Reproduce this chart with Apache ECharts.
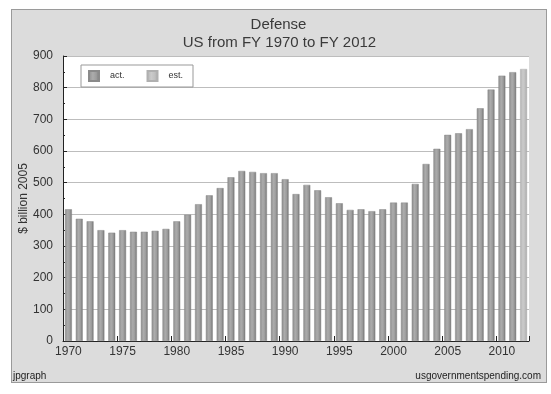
<!DOCTYPE html>
<html>
<head>
<meta charset="utf-8">
<script src="https://cdn.jsdelivr.net/npm/echarts@6/dist/echarts.min.js"></script>
<style>
  html, body { margin: 0; padding: 0; background: #fff; }
  #wrap { position: relative; width: 551px; height: 394px; }
  #frame { position: absolute; left: 11px; top: 9px; width: 534px; height: 372px;
           background: #dcdcdc; border: 1px solid #9a9a9a; }
  #chart { position: absolute; left: 0; top: 0; width: 551px; height: 394px; }
</style>
</head>
<body>
<div id="wrap">
  <div id="frame"></div>
  <div id="chart"></div>
</div>
<script>
const years = ['1970','1971','1972','1973','1974','1975','1976','1977','1978','1979',
  '1980','1981','1982','1983','1984','1985','1986','1987','1988','1989',
  '1990','1991','1992','1993','1994','1995','1996','1997','1998','1999',
  '2000','2001','2002','2003','2004','2005','2006','2007','2008','2009',
  '2010','2011','2012'];
const actValues = [416,386,378,350,342,350,345,345,348,354,
  378,399,432,460,483,517,537,534,530,530,
  511,464,493,476,454,435,414,416,410,416,
  437,437,496,559,607,651,656,669,735,794,
  838,849,null];
const estValues = [null,null,null,null,null,null,null,null,null,null,
  null,null,null,null,null,null,null,null,null,null,
  null,null,null,null,null,null,null,null,null,null,
  null,null,null,null,null,null,null,null,null,null,
  null,null,859];
const yTicks = [0,100,200,300,400,500,600,700,800,900];
const titleText = 'Defense';
const subTitleText = 'US from FY 1970 to FY 2012';
const yAxisName = '$ billion 2005';

const FONT = 'Liberation Sans, Arial, sans-serif';
const actColor = new echarts.graphic.LinearGradient(0, 0, 1, 0, [
  {offset: 0, color: '#8c8c8c'}, {offset: 0.4, color: '#acacac'},
  {offset: 0.7, color: '#9c9c9c'}, {offset: 1, color: '#707070'}]);
const estColor = new echarts.graphic.LinearGradient(0, 0, 1, 0, [
  {offset: 0, color: '#b0b0b0'}, {offset: 0.4, color: '#cbcbcb'},
  {offset: 0.7, color: '#c0c0c0'}, {offset: 1, color: '#a4a4a4'}]);

const chart = echarts.init(document.getElementById('chart'), null, {renderer: 'canvas'});
chart.setOption({
  animation: false,
  textStyle: {fontFamily: FONT},
  legend: {
    left: 81, top: 65,
    padding: [5, 10, 5, 7],
    itemWidth: 10, itemHeight: 10, itemGap: 22,
    backgroundColor: '#ffffff', borderColor: '#999', borderWidth: 1, borderRadius: 0,
    icon: 'rect',
    textStyle: {fontSize: 9, color: '#333', padding: [0, 0, 0, 6], fontFamily: FONT},
    data: ['act.', 'est.']
  },
  grid: {
    left: 63, top: 56, right: 22, bottom: 53,
    show: true, backgroundColor: '#ffffff', borderWidth: 0
  },
  xAxis: {
    type: 'category',
    data: years,
    boundaryGap: true,
    axisLine: {lineStyle: {color: '#222', width: 1}},
    axisTick: {show: true, inside: true, length: 5, interval: 4, lineStyle: {color: '#222'}},
    axisLabel: {interval: 4, fontSize: 12, color: '#333', margin: 5, fontFamily: FONT},
    splitLine: {show: false}
  },
  yAxis: {
    type: 'value',
    min: 0, max: 900, interval: 100,
    name: yAxisName,
    nameLocation: 'middle',
    nameGap: 33,
    nameRotate: 90,
    nameMoveOverlap: false,
    nameTextStyle: {fontSize: 12, color: '#333', fontFamily: FONT},
    axisLine: {show: true, lineStyle: {color: '#222', width: 1}},
    axisTick: {show: true, inside: true, length: 4, lineStyle: {color: '#222'}},
    minorTick: {show: true, splitNumber: 2, length: 2, lineStyle: {color: '#222'}},
    axisLabel: {fontSize: 12, color: '#333', margin: 10, fontFamily: FONT,
      formatter: function (v) { return yTicks.indexOf(v) >= 0 ? String(v) : ''; }},
    splitLine: {show: true, lineStyle: {color: '#bdbdbd', width: 1}}
  },
  graphic: [
    {type: 'text', x: 278.5, y: 24.5, style: {text: titleText, font: '15px ' + FONT, fill: '#3a3a3a',
      align: 'center', verticalAlign: 'middle'}},
    {type: 'text', x: 279.5, y: 42.5, style: {text: subTitleText, font: '15px ' + FONT, fill: '#3a3a3a',
      align: 'center', verticalAlign: 'middle'}},
    {type: 'text', left: 13, top: 371, style: {text: 'jpgraph', font: '10px ' + FONT, fill: '#222'}},
    {type: 'text', right: 10, top: 371, style: {text: 'usgovernmentspending.com', font: '10px ' + FONT, fill: '#222'}}
  ],
  series: [
    {name: 'act.', type: 'bar', stack: 'fy', data: actValues, barWidth: '64%',
      itemStyle: {color: actColor, borderColor: '#8a8a8a', borderWidth: 0.5}},
    {name: 'est.', type: 'bar', stack: 'fy', data: estValues, barWidth: '64%',
      itemStyle: {color: estColor, borderColor: '#b0b0b0', borderWidth: 0.5}}
  ]
});
</script>
</body>
</html>
